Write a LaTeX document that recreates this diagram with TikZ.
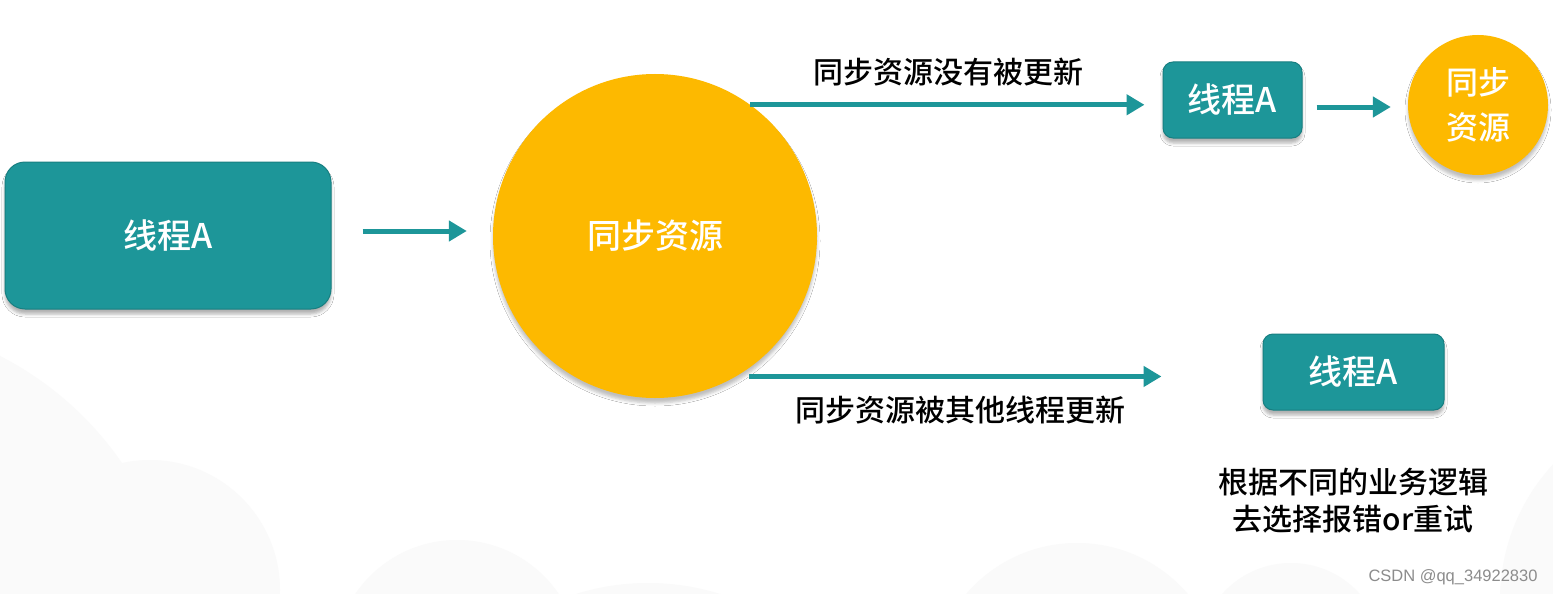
\documentclass[tikz,border=0pt]{standalone}
\usepackage{fontspec}
\setmainfont{Noto Sans CJK SC}[BoldFont={Noto Sans CJK SC Medium}]
\newfontfamily\wmfont{Liberation Sans}
\usetikzlibrary{arrows.meta,shadows.blur}
\definecolor{tealfill}{HTML}{1D9699}
\definecolor{tealline}{HTML}{187F81}
\definecolor{sunfill}{HTML}{FDB900}
\definecolor{cloudfill}{HTML}{FAFAFA}
\tikzset{
	thread/.style={rectangle,rounded corners=10pt,fill=tealfill,draw=tealline,line width=1pt,text=white,font=\fontsize{34}{40}\selectfont\bfseries,minimum height=76pt,blur shadow={shadow xshift=0pt,shadow yshift=-5pt,shadow blur radius=3pt,shadow opacity=30}},
	res/.style={circle,fill=sunfill,text=white,inner sep=0pt,align=center,blur shadow={shadow xshift=0pt,shadow yshift=-5pt,shadow blur radius=3pt,shadow opacity=25}},
	flow/.style={draw=tealfill,line width=5pt,-{Triangle[length=18pt,width=20pt]}},
	lbl/.style={font=\fontsize{30}{37}\selectfont\bfseries,align=center}
}
\begin{document}
\begin{tikzpicture}[x=1pt,y=-1pt]
		\useasboundingbox (0,0) rectangle (1553,594);
		\fill[white] (0,0) rectangle (1553,594);
		\begin{scope}
		\clip (0,0) rectangle (1553,594);
		\fill[cloudfill] (-150,650) circle (330pt) (150,590) circle (130pt) (457,663) circle (123pt) (648,823) circle (240pt) (1077,689) circle (146pt) (1291,655) circle (92pt) (1700,600) circle (200pt);
		\end{scope}
		\node[thread,minimum width=326pt,minimum height=147pt,rounded corners=20pt] (A) at (168,235.5) {线程A};
		\node[res,minimum size=324pt,font=\fontsize{34}{40}\selectfont\bfseries] (S) at (655,236) {同步资源};
		\node[thread,minimum width=139pt] (A1) at (1232.5,100) {线程A};
		\node[res,minimum size=140pt,font=\fontsize{32}{45}\selectfont\bfseries] (S1) at (1478,105) {同步\\资源};
		\node[thread,minimum width=181pt] (A2) at (1353.5,372) {线程A};
		\node[lbl] (same) at (948,72) {同步资源没有被更新};
		\node[lbl] (changed) at (960,410) {同步资源被其他线程更新};
		\node[lbl] (retry) at (1353,501) {根据不同的业务逻辑\\去选择报错or重试};
		\node[font=\wmfont\fontsize{16.5}{18}\selectfont,text=black!45] (wm) at (1453,577) {CSDN @qq\_34922830};
		\draw[flow] ([xshift=31pt,yshift=4.5pt]A.east) -- ([xshift=-26pt,yshift=4.5pt]A.east -| S.west);
		\draw[flow,shorten >=18pt] (S.54) -- (S.54 -| A1.west);
		\draw[flow,shorten <=14pt,shorten >=17pt] ([yshift=-7pt]A1.east) -- ([yshift=-7pt]A1.east -| S1.west);
		\draw[flow,shorten <=13pt,shorten >=101pt] (S.-60) -- (S.-60 -| A2.west);
\end{tikzpicture}
\end{document}
